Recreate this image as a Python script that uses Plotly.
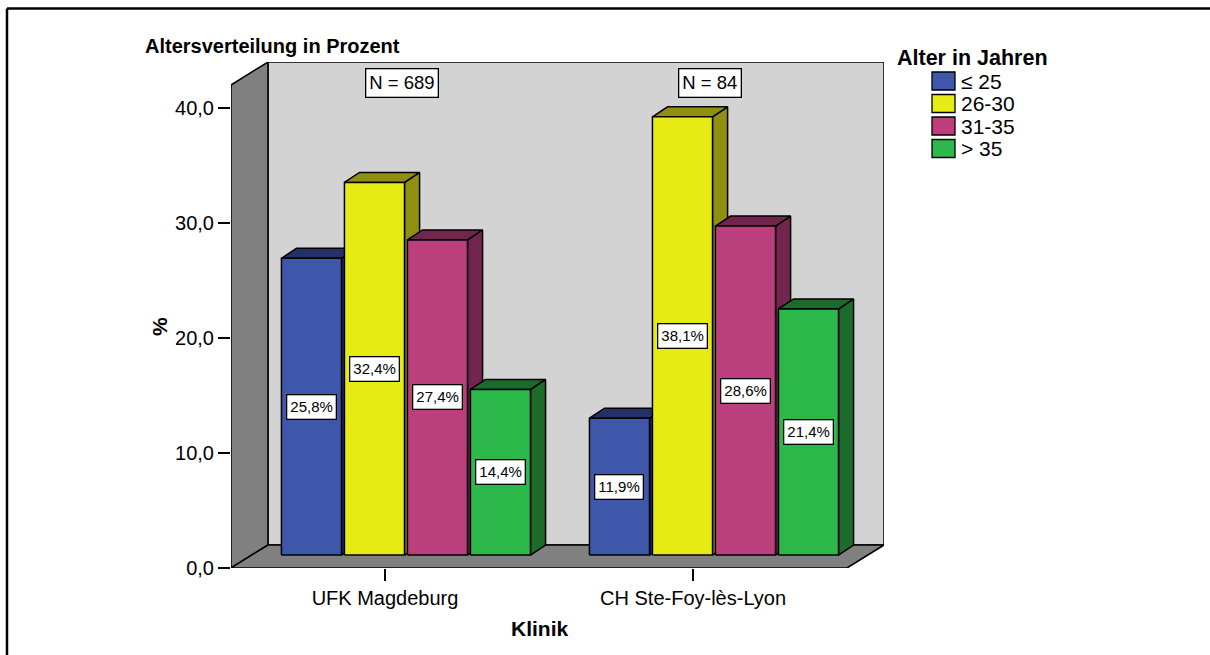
import plotly.graph_objects as go

# ---- data -------------------------------------------------------------
clinics = ["UFK Magdeburg", "CH Ste-Foy-lès-Lyon"]
age_groups = ["≤ 25", "26-30", "31-35", "> 35"]
pct_ufk = [25.8, 32.4, 27.4, 14.4]
pct_ch = [11.9, 38.1, 28.6, 21.4]
n_counts = [689, 84]
y_ticks = [0, 10, 20, 30, 40]

front_colors = ["#3f57aa", "#e6eb14", "#bb3f7d", "#2db84b"]
shade_colors = ["#233168", "#909010", "#73264d", "#1d6b2b"]

# ---- pseudo-3D geometry (data units) ---------------------------------
X0, X1 = -0.5, 1.5          # front edge of the floor
ROOM_DX, ROOM_DY = 0.12, 2.0  # depth of the room
WALL_H = 42.0
BAR_X, BAR_Y = 0.068, 1.13    # bar plane offset from the front plane
BAR_DX, BAR_DY = 0.049, 0.87  # depth of each bar
BAR_W = 0.195
BAR_STEP = 0.2045
Y_MAX = WALL_H + ROOM_DY

W, H = 1210, 655
ML, MT = 231, 62
PLOT_W = 653
PLOT_H = 506
MR = W - ML - PLOT_W
MB = H - MT - PLOT_H

FONT = "Liberation Sans, Arial, sans-serif"

fig = go.Figure()


def poly(xs, ys, fill, lw=1.5):
    fig.add_trace(go.Scatter(
        x=list(xs) + [xs[0]], y=list(ys) + [ys[0]], mode="lines",
        fill="toself", fillcolor=fill,
        line=dict(color="black", width=lw),
        hoverinfo="skip", showlegend=False))


# room: back wall, side wall, floor
poly([X0 + ROOM_DX, X1 + ROOM_DX, X1 + ROOM_DX, X0 + ROOM_DX],
     [ROOM_DY, ROOM_DY, Y_MAX, Y_MAX], "#d3d3d3")
poly([X0, X0 + ROOM_DX, X0 + ROOM_DX, X0],
     [0, ROOM_DY, Y_MAX, WALL_H], "#808080")
poly([X0, X1, X1 + ROOM_DX, X0 + ROOM_DX],
     [0, 0, ROOM_DY, ROOM_DY], "#808080")

# bars, drawn left to right so each front covers its neighbour's side
annotations = []
for ci, values in enumerate([pct_ufk, pct_ch]):
    centre = ci + BAR_X
    for gi, v in enumerate(values):
        xl = centre + (gi - 1.5) * BAR_STEP - BAR_W / 2
        xr = xl + BAR_W
        y0, y1 = BAR_Y, BAR_Y + v
        # side face
        poly([xr, xr + BAR_DX, xr + BAR_DX, xr],
             [y0, y0 + BAR_DY, y1 + BAR_DY, y1], shade_colors[gi])
        # top face
        poly([xl, xl + BAR_DX, xr + BAR_DX, xr],
             [y1, y1 + BAR_DY, y1 + BAR_DY, y1], shade_colors[gi])
        # front face
        poly([xl, xr, xr, xl], [y0, y0, y1, y1], front_colors[gi])
        annotations.append(dict(
            x=(xl + xr) / 2, y=y0 + v / 2, xref="x", yref="y",
            xanchor="center", yanchor="middle",
            text=f"{v:.1f}".replace(".", ",") + "%", showarrow=False,
            font=dict(family=FONT, size=15, color="black"),
            bgcolor="white", bordercolor="black", borderwidth=1.3,
            borderpad=3))
    annotations.append(dict(
        x=ci + 0.056, y=42.2, xref="x", yref="y",
        xanchor="center", yanchor="middle",
        text=f"N = {n_counts[ci]}", showarrow=False,
        font=dict(family=FONT, size=18.5, color="black"),
        bgcolor="white", bordercolor="black", borderwidth=1.3,
        borderpad=3))


def px_x(px):
    return (px - ML) / PLOT_W


def px_y(py):
    return (H - MB - py) / PLOT_H


# titles
annotations.append(dict(
    x=px_x(143), y=px_y(46), xref="paper", yref="paper",
    xanchor="left", yanchor="middle", showarrow=False,
    text="<b>Altersverteilung in Prozent</b>",
    font=dict(family=FONT, size=20, color="black")))
annotations.append(dict(
    x=px_x(159), y=px_y(327), xref="paper", yref="paper",
    xanchor="center", yanchor="middle",
    showarrow=False, textangle=-90, text="<b>%</b>",
    font=dict(family=FONT, size=21, color="black")))
annotations.append(dict(
    x=0.5, y=px_y(628), xref="x", yref="paper", showarrow=False,
    xanchor="center", yanchor="middle",
    text="<b>Klinik</b>", font=dict(family=FONT, size=21, color="black")))

# legend
shapes = []
annotations.append(dict(
    x=px_x(895), y=px_y(58), xref="paper", yref="paper",
    xanchor="left", yanchor="middle", showarrow=False,
    text="<b>Alter in Jahren</b>",
    font=dict(family=FONT, size=21.5, color="black")))
for gi, label in enumerate(age_groups):
    top = 72 + gi * 22.5
    shapes.append(dict(
        type="rect", xref="paper", yref="paper",
        x0=px_x(932), x1=px_x(955), y0=px_y(top), y1=px_y(top + 18),
        fillcolor=front_colors[gi], line=dict(color="black", width=1.3)))
    annotations.append(dict(
        x=px_x(959), y=px_y(top + 9), xref="paper", yref="paper",
        xanchor="left", yanchor="middle", showarrow=False, text=label,
        font=dict(family=FONT, size=21, color="black")))

# outer frame: only the top and left edges fall inside the page
shapes.append(dict(
    type="line", xref="paper", yref="paper",
    x0=px_x(7), x1=px_x(W), y0=px_y(8.5), y1=px_y(8.5),
    line=dict(color="black", width=2.5)))
shapes.append(dict(
    type="line", xref="paper", yref="paper",
    x0=px_x(7), x1=px_x(7), y0=px_y(8.5), y1=px_y(H),
    line=dict(color="black", width=2.5)))

fig.update_layout(
    width=W, height=H,
    margin=dict(l=ML, r=MR, t=MT, b=MB, pad=0),
    paper_bgcolor="white", plot_bgcolor="white",
    showlegend=False,
    separators=",.",
    annotations=annotations, shapes=shapes,
    xaxis=dict(
        range=[X0, X1 + ROOM_DX], tickvals=[0, 1], ticktext=clinics,
        ticks="outside", ticklen=12, tickwidth=2, tickcolor="black",
        showgrid=False, zeroline=False, showline=False,
        tickfont=dict(family=FONT, size=20, color="black"), fixedrange=True),
    yaxis=dict(
        range=[0, Y_MAX], tickvals=y_ticks, tickformat=".1f",
        ticks="outside", ticklen=12, tickwidth=2, tickcolor="black",
        showgrid=False, zeroline=False, showline=False,
        tickfont=dict(family=FONT, size=20, color="black"), fixedrange=True),
)

fig.write_html("out.html", config={"displayModeBar": False})
